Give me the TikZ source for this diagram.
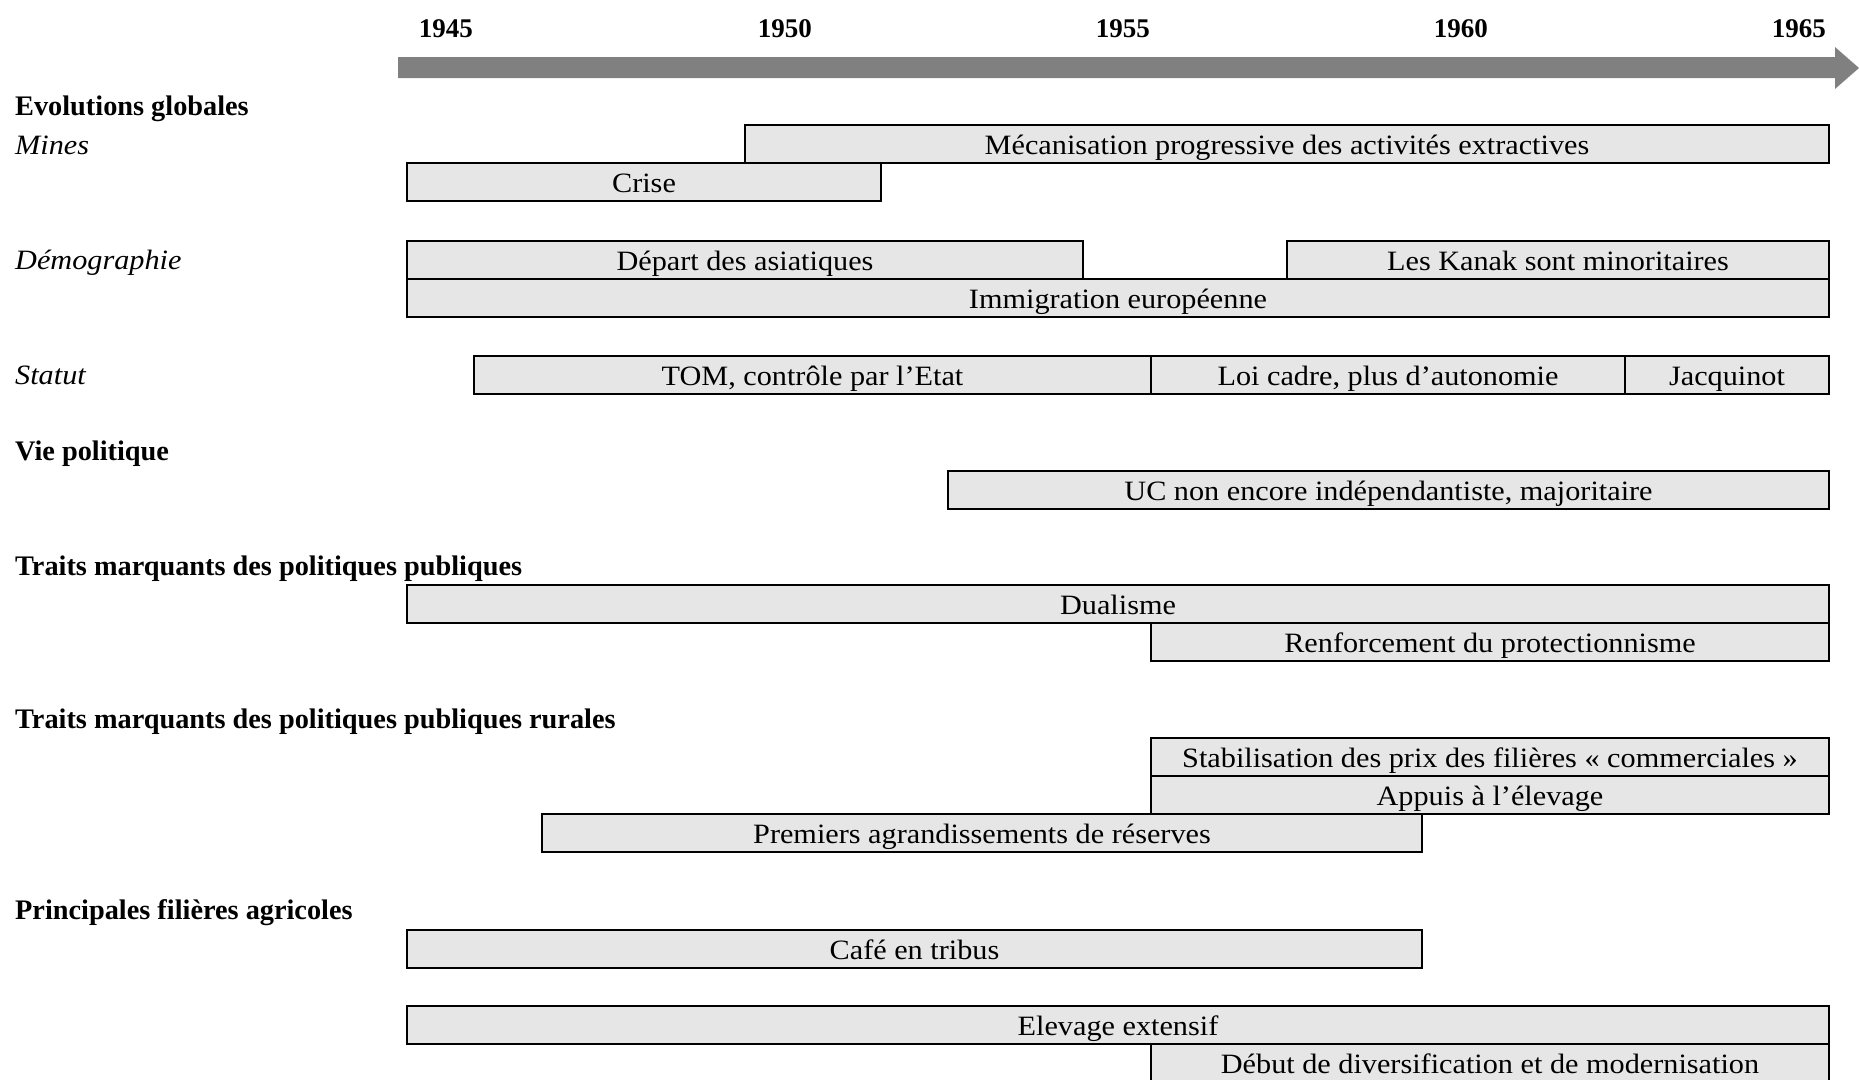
\documentclass[tikz,border=0pt]{standalone}
\usepackage{fontspec}
\setmainfont[FakeStretch=1.08]{Liberation Serif}
\newfontfamily\headfont{Liberation Serif}
\usetikzlibrary{positioning}
\definecolor{barfill}{RGB}{230,230,230}
\definecolor{axisgray}{RGB}{128,128,128}
\tikzset{
  x=1pt, y=-1pt,
  bar/.style={draw=black, line width=2pt, fill=barfill, anchor=north west,
    minimum height=38pt, inner sep=0pt, font=\fontsize{28}{32}\selectfont,
    text height=21.5pt, text depth=0pt},
  head/.style={anchor=base west, inner sep=0pt, font=\headfont\fontsize{28.3}{32}\selectfont\bfseries},
  sub/.style={anchor=base west, inner sep=0pt, font=\fontsize{28}{32}\selectfont\itshape},
  year/.style={anchor=base east, inner sep=0pt, font=\headfont\fontsize{27}{30}\selectfont\bfseries},
}
\newcommand{\tlbar}[5]{% name, x1, x2, ytop, text
  \pgfmathsetmacro{\bw}{#3-#2}
  \node[bar, minimum width=\bw pt] (#1) at (#2,#4) {#5};}
\begin{document}
\begin{tikzpicture}
\useasboundingbox (0,0) rectangle (1859,1079);
% axis arrow
\fill[axisgray] (398,57) -- (1835,57) -- (1835,47) -- (1859,68) -- (1835,89) -- (1835,78) -- (398,78) -- cycle;
\node[year] (y1945) at (473,37) {1945};
\node[year] (y1950) at (812,37) {1950};
\node[year] (y1955) at (1150,37) {1955};
\node[year] (y1960) at (1488,37) {1960};
\node[year] (y1965) at (1826,37) {1965};
% left labels
\node[head] (hevol) at (15,115) {Evolutions globales};
\node[sub] (hmines) at (15,154) {Mines};
\node[sub] (hdemo) at (15,269) {Démographie};
\node[sub] (hstat) at (15,384) {Statut};
\node[head] (hvie) at (15,460) {Vie politique};
\node[head] (htraits) at (15,575) {Traits marquants des politiques publiques};
\node[head] (hrur) at (15,728) {Traits marquants des politiques publiques rurales};
\node[head] (hfil) at (15,919) {Principales filières agricoles};
% bars
\tlbar{meca}{744}{1828}{124}{Mécanisation progressive des activités extractives}
\tlbar{crise}{406}{880}{162}{Crise}
\tlbar{depart}{406}{1082}{240}{Départ des asiatiques}
\tlbar{kanak}{1286}{1828}{240}{Les Kanak sont minoritaires}
\tlbar{immig}{406}{1828}{278}{Immigration européenne}
\tlbar{tom}{473}{1150}{355}{TOM, contrôle par l’Etat}
\tlbar{loi}{1150}{1624}{355}{Loi cadre, plus d’autonomie}
\tlbar{jacq}{1624}{1828}{355}{Jacquinot}
\tlbar{uc}{947}{1828}{470}{UC non encore indépendantiste, majoritaire}
\tlbar{dual}{406}{1828}{584}{Dualisme}
\tlbar{renf}{1150}{1828}{622}{Renforcement du protectionnisme}
\tlbar{stab}{1150}{1828}{737}{Stabilisation des prix des filières « commerciales »}
\tlbar{appui}{1150}{1828}{775}{Appuis à l’élevage}
\tlbar{prem}{541}{1421}{813}{Premiers agrandissements de réserves}
\tlbar{cafe}{406}{1421}{929}{Café en tribus}
\tlbar{elev}{406}{1828}{1005}{Elevage extensif}
\tlbar{debut}{1150}{1828}{1043}{Début de diversification et de modernisation}
\end{tikzpicture}
\end{document}
